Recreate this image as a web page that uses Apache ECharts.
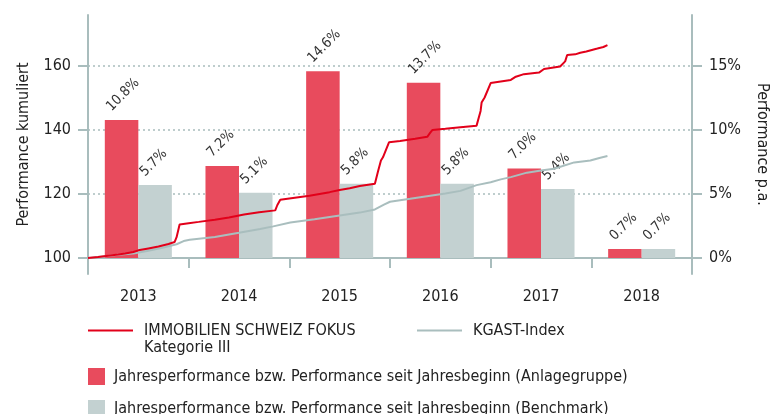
<!DOCTYPE html>
<html>
<head>
<meta charset="utf-8">
<script src="https://cdn.jsdelivr.net/npm/echarts@6/dist/echarts.min.js"></script>
<style>
  html, body { margin: 0; padding: 0; background: #ffffff; }
  #chart { width: 780px; height: 414px; }
</style>
</head>
<body>
<div id="chart"></div>
<script>
// Calendar years on the category axis
const years = ['2013', '2014', '2015', '2016', '2017', '2018'];

// Annual performance / year-to-date performance in percent
const fundYearPerf = [10.8, 7.2, 14.6, 13.7, 7.0, 0.7];
const benchYearPerf = [5.7, 5.1, 5.8, 5.8, 5.4, 0.7];

// Cumulative performance (indexed to 100), [decimal year, index level]
const fundCumulative = [
  [2013.00, 100.0], [2013.10, 100.3], [2013.20, 100.7], [2013.30, 101.1], [2013.37, 101.4],
  [2013.45, 101.9], [2013.50, 102.4], [2013.60, 103.0], [2013.70, 103.6], [2013.80, 104.4],
  [2013.86, 105.0], [2013.88, 106.5], [2013.91, 110.5], [2014.00, 110.9], [2014.10, 111.3],
  [2014.26, 112.0], [2014.40, 112.7], [2014.55, 113.6], [2014.70, 114.3], [2014.86, 114.9],
  [2014.88, 116.5], [2014.91, 118.2], [2015.00, 118.6], [2015.20, 119.5], [2015.40, 120.6],
  [2015.50, 121.3], [2015.60, 121.8], [2015.70, 122.5], [2015.85, 123.2], [2015.88, 127.0],
  [2015.91, 130.5], [2015.93, 131.5], [2015.99, 136.2], [2016.10, 136.6], [2016.25, 137.3],
  [2016.37, 137.9], [2016.40, 139.2], [2016.42, 140.0], [2016.55, 140.4], [2016.70, 140.9],
  [2016.86, 141.4], [2016.90, 146.0], [2016.91, 148.6], [2016.94, 150.2], [2017.00, 154.7],
  [2017.10, 155.2], [2017.20, 155.7], [2017.25, 156.7], [2017.33, 157.5], [2017.48, 158.0],
  [2017.53, 159.1], [2017.69, 159.9], [2017.74, 161.5], [2017.76, 163.5], [2017.84, 163.7],
  [2017.89, 164.2], [2017.95, 164.6], [2018.06, 165.5], [2018.12, 166.0], [2018.16, 166.6]
];
const benchCumulative = [
  [2013.00, 100.0], [2013.15, 100.5], [2013.30, 101.0], [2013.45, 101.4], [2013.60, 102.3],
  [2013.75, 103.3], [2013.88, 104.3], [2013.95, 105.3], [2014.01, 105.7], [2014.26, 106.6],
  [2014.50, 107.9], [2014.71, 109.1], [2014.84, 109.9], [2015.01, 111.1], [2015.25, 112.1],
  [2015.50, 113.3], [2015.70, 114.2], [2015.85, 115.2], [2015.94, 116.7], [2016.00, 117.6],
  [2016.20, 118.5], [2016.40, 119.5], [2016.55, 120.2], [2016.70, 121.0], [2016.86, 122.8],
  [2017.00, 123.7], [2017.10, 124.6], [2017.20, 125.3], [2017.36, 126.7], [2017.50, 127.4],
  [2017.63, 127.9], [2017.83, 129.9], [2017.99, 130.5], [2018.08, 131.3], [2018.16, 131.9]
];

// Tick values of both value axes
const leftTicks = [100, 120, 140, 160];
const rightTicks = [0, 5, 10, 15];

const FUND_NAME = 'IMMOBILIEN SCHWEIZ FOKUS Kategorie III';
const BENCH_NAME = 'KGAST-Index';
const FUND_BAR_NAME = 'Jahresperformance bzw. Performance seit Jahresbeginn (Anlagegruppe)';
const BENCH_BAR_NAME = 'Jahresperformance bzw. Performance seit Jahresbeginn (Benchmark)';

const FONT = '"DejaVu Sans Condensed", "DejaVu Sans", sans-serif';
const TEXT = '#222222';
const AXIS = '#a9bdbd';
const RED_LINE = '#e2001a';
const RED_BAR = '#e84b5d';
const GREY_LINE = '#a9bebe';
const GREY_BAR = '#c3d1d1';

// Value labels start at the bar's upper left corner and run up at 45°
const barLabel = {
  show: true,
  position: [9, -6],
  rotate: 45,
  align: 'left',
  verticalAlign: 'bottom',
  fontFamily: FONT,
  fontSize: 14,
  color: '#333333',
  formatter: p => p.value.toFixed(1) + '%'
};

const legendBase = {
  orient: 'horizontal',
  padding: 0,
  selectedMode: false,
  textStyle: { fontFamily: FONT, fontSize: 16, color: TEXT, lineHeight: 17, padding: [0, 0, 0, 6] }
};

const chart = echarts.init(document.getElementById('chart'), null, { renderer: 'canvas' });

chart.setOption({
  animation: false,
  backgroundColor: '#ffffff',
  textStyle: { fontFamily: FONT },
  grid: { left: 88, right: 88, top: 15, bottom: 140, containLabel: false },
  xAxis: [
    {
      type: 'category',
      data: years,
      boundaryGap: true,
      axisLine: { lineStyle: { color: AXIS, width: 2 } },
      axisTick: { show: true, length: 10, lineStyle: { color: AXIS, width: 2 } },
      axisLabel: { color: TEXT, fontFamily: FONT, fontSize: 16, margin: 15 },
      splitLine: { show: false }
    },
    { type: 'value', min: 2013, max: 2019, show: false }
  ],
  yAxis: [
    {
      type: 'value',
      position: 'left',
      min: 95,
      max: 176,
      name: 'Performance kumuliert',
      nameLocation: 'middle',
      nameGap: 56,
      nameTextStyle: { color: TEXT, fontFamily: FONT, fontSize: 16 },
      axisLine: { show: true, lineStyle: { color: AXIS, width: 2 } },
      axisTick: { show: true, length: 10, customValues: leftTicks, lineStyle: { color: AXIS, width: 2 } },
      axisLabel: { customValues: leftTicks, color: TEXT, fontFamily: FONT, fontSize: 16, margin: 17 },
      splitLine: { show: true, lineStyle: { color: AXIS, width: 1.5, type: [2, 3] } }
    },
    {
      type: 'value',
      position: 'right',
      min: -1.25,
      max: 19,
      name: 'Performance p.a.',
      nameLocation: 'middle',
      nameRotate: -90,
      nameGap: 62,
      nameTextStyle: { color: TEXT, fontFamily: FONT, fontSize: 16 },
      axisLine: { show: true, lineStyle: { color: AXIS, width: 2 } },
      axisTick: { show: true, length: 10, customValues: rightTicks, lineStyle: { color: AXIS, width: 2 } },
      axisLabel: { customValues: rightTicks, color: TEXT, fontFamily: FONT, fontSize: 16, margin: 17, formatter: '{value}%' },
      splitLine: { show: false }
    }
  ],
  legend: [
    // leading empty line keeps the first text line level with the line swatch
    Object.assign({}, legendBase, {
      data: [FUND_NAME], left: 88, top: 305, itemWidth: 45, itemHeight: 2, icon: 'rect',
      formatter: n => '\n' + n.replace(' Kategorie', '\nKategorie')
    }),
    Object.assign({}, legendBase, { data: [BENCH_NAME], left: 417, top: 322, itemWidth: 45, itemHeight: 2, icon: 'rect' }),
    Object.assign({}, legendBase, { data: [FUND_BAR_NAME], left: 88, top: 368, itemWidth: 17, itemHeight: 17, icon: 'rect',
      textStyle: Object.assign({}, legendBase.textStyle, { padding: [0, 0, 0, 4] }) }),
    Object.assign({}, legendBase, { data: [BENCH_BAR_NAME], left: 88, top: 400, itemWidth: 17, itemHeight: 17, icon: 'rect',
      textStyle: Object.assign({}, legendBase.textStyle, { padding: [0, 0, 0, 4] }) })
  ],
  series: [
    {
      name: FUND_BAR_NAME,
      type: 'bar',
      xAxisIndex: 0,
      yAxisIndex: 1,
      data: fundYearPerf,
      barWidth: '33.3%',
      barGap: '0%',
      itemStyle: { color: RED_BAR },
      label: barLabel,
      z: 2
    },
    {
      name: BENCH_BAR_NAME,
      type: 'bar',
      xAxisIndex: 0,
      yAxisIndex: 1,
      data: benchYearPerf,
      barWidth: '33.3%',
      barGap: '0%',
      itemStyle: { color: GREY_BAR },
      label: barLabel,
      z: 2
    },
    {
      name: BENCH_NAME,
      type: 'line',
      xAxisIndex: 1,
      yAxisIndex: 0,
      data: benchCumulative,
      symbol: 'none',
      lineStyle: { color: GREY_LINE, width: 2 },
      itemStyle: { color: GREY_LINE },
      z: 3
    },
    {
      name: FUND_NAME,
      type: 'line',
      xAxisIndex: 1,
      yAxisIndex: 0,
      data: fundCumulative,
      symbol: 'none',
      lineStyle: { color: RED_LINE, width: 2 },
      itemStyle: { color: RED_LINE },
      z: 4
    }
  ]
});
</script>
</body>
</html>
